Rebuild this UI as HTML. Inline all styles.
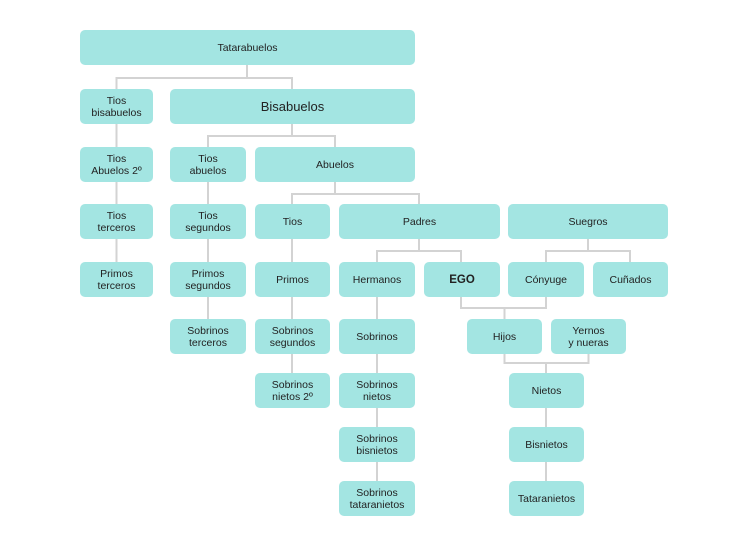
<!DOCTYPE html>
<html><head><meta charset="utf-8"><style>
html,body{margin:0;padding:0;background:#fff;}
#c{position:relative;width:750px;height:550px;overflow:hidden;font-family:"Liberation Sans",Arial,sans-serif;color:#222;}
svg{position:absolute;left:0;top:0;}
.b{position:absolute;background:#a3e5e2;border-radius:5px;display:flex;align-items:center;justify-content:center;text-align:center;font-size:10.5px;line-height:12px;}
</style></head><body><div id="c">
<svg width="750" height="550">
<g stroke="#d3d3d3" stroke-width="2" fill="none">
<path d="M247 65V78M116.5 89V78H292V89"/>
<path d="M116.5 124V262"/>
<path d="M292 124V136M208 147V136H335V147"/>
<path d="M208 182V319"/>
<path d="M335 182V194M292 204V194H419V204"/>
<path d="M292 239V373"/>
<path d="M419 239V251M377 262V251H461V262"/>
<path d="M377 297V481"/>
<path d="M588 239V251M546 262V251H630V262"/>
<path d="M461 297V308H546V297M504.5 308V319"/>
<path d="M504.5 354V363H588.5V354M546 363V373"/>
<path d="M546 408V481"/>
</g></svg>
<div class="b" style="left:80px;top:30px;width:335px;height:35px;">Tatarabuelos</div>
<div class="b" style="left:80px;top:89px;width:73px;height:35px;">Tios<br>bisabuelos</div>
<div class="b" style="left:170px;top:89px;width:245px;height:35px;font-size:13px;">Bisabuelos</div>
<div class="b" style="left:80px;top:147px;width:73px;height:35px;">Tios<br>Abuelos 2º</div>
<div class="b" style="left:170px;top:147px;width:76px;height:35px;">Tios<br>abuelos</div>
<div class="b" style="left:255px;top:147px;width:160px;height:35px;">Abuelos</div>
<div class="b" style="left:80px;top:204px;width:73px;height:35px;">Tios<br>terceros</div>
<div class="b" style="left:170px;top:204px;width:76px;height:35px;">Tios<br>segundos</div>
<div class="b" style="left:255px;top:204px;width:75px;height:35px;">Tios</div>
<div class="b" style="left:339px;top:204px;width:161px;height:35px;">Padres</div>
<div class="b" style="left:508px;top:204px;width:160px;height:35px;">Suegros</div>
<div class="b" style="left:80px;top:262px;width:73px;height:35px;">Primos<br>terceros</div>
<div class="b" style="left:170px;top:262px;width:76px;height:35px;">Primos<br>segundos</div>
<div class="b" style="left:255px;top:262px;width:75px;height:35px;">Primos</div>
<div class="b" style="left:339px;top:262px;width:76px;height:35px;">Hermanos</div>
<div class="b" style="left:424px;top:262px;width:76px;height:35px;font-weight:bold;font-size:11.5px;">EGO</div>
<div class="b" style="left:508px;top:262px;width:76px;height:35px;">Cónyuge</div>
<div class="b" style="left:593px;top:262px;width:75px;height:35px;">Cuñados</div>
<div class="b" style="left:170px;top:319px;width:76px;height:35px;">Sobrinos<br>terceros</div>
<div class="b" style="left:255px;top:319px;width:75px;height:35px;">Sobrinos<br>segundos</div>
<div class="b" style="left:339px;top:319px;width:76px;height:35px;">Sobrinos</div>
<div class="b" style="left:467px;top:319px;width:75px;height:35px;">Hijos</div>
<div class="b" style="left:551px;top:319px;width:75px;height:35px;">Yernos<br>y nueras</div>
<div class="b" style="left:255px;top:373px;width:75px;height:35px;">Sobrinos<br>nietos 2º</div>
<div class="b" style="left:339px;top:373px;width:76px;height:35px;">Sobrinos<br>nietos</div>
<div class="b" style="left:509px;top:373px;width:75px;height:35px;">Nietos</div>
<div class="b" style="left:339px;top:427px;width:76px;height:35px;">Sobrinos<br>bisnietos</div>
<div class="b" style="left:509px;top:427px;width:75px;height:35px;">Bisnietos</div>
<div class="b" style="left:339px;top:481px;width:76px;height:35px;">Sobrinos<br>tataranietos</div>
<div class="b" style="left:509px;top:481px;width:75px;height:35px;">Tataranietos</div>
</div></body></html>
